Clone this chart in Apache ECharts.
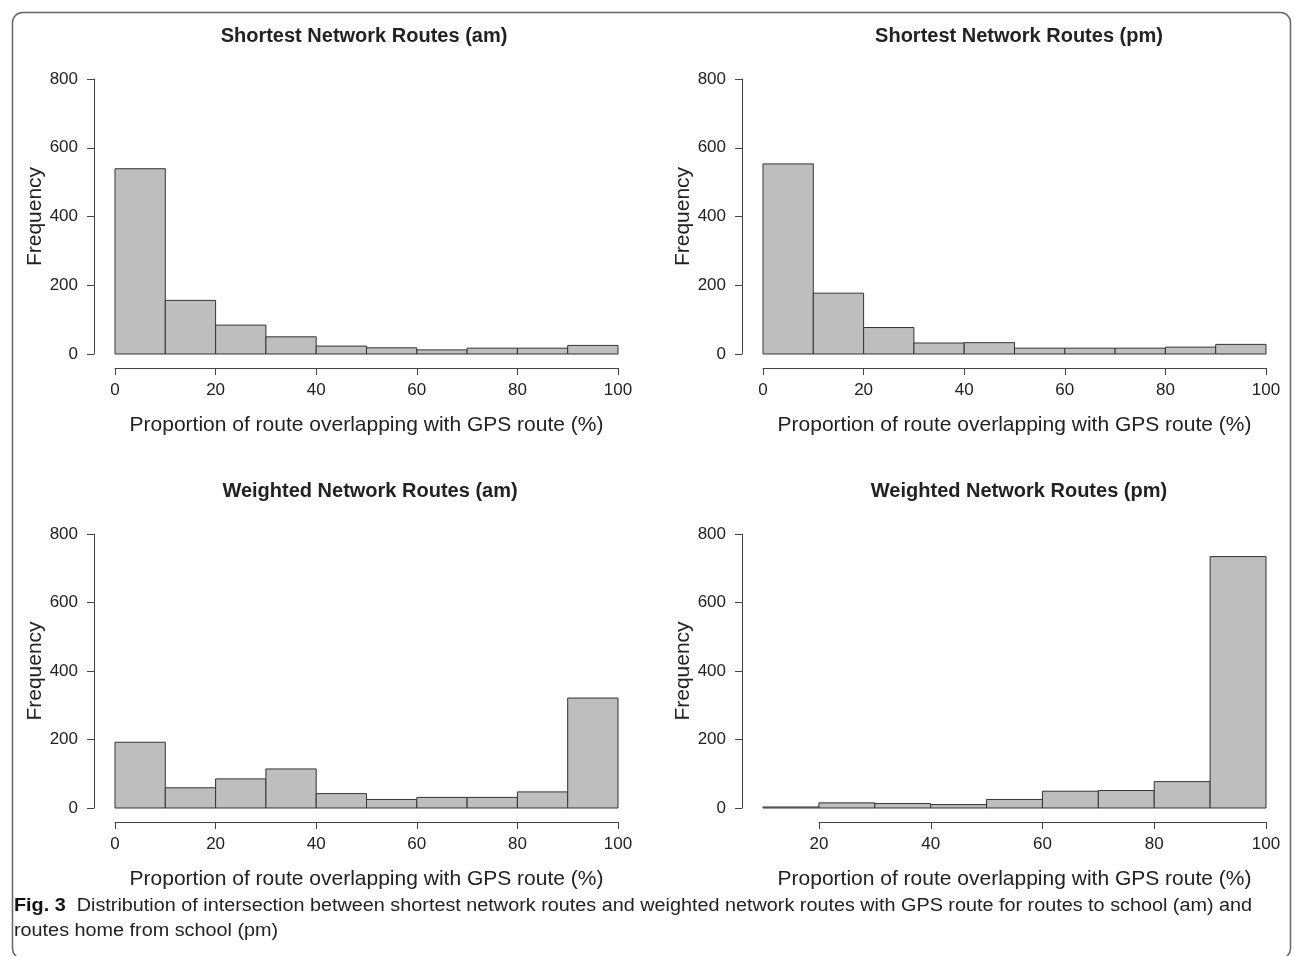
<!DOCTYPE html>
<html>
<head>
<meta charset="utf-8">
<script src="https://cdn.jsdelivr.net/npm/echarts@6/dist/echarts.min.js"></script>
<style>
  html, body { margin: 0; padding: 0; background: #fff; }
  #chart { width: 1295px; height: 956px; }
</style>
</head>
<body>
<div id="chart"></div>
<script>
// bin edges (percent overlap) and frequency counts
const binStartsFull = [0, 10, 20, 30, 40, 50, 60, 70, 80, 90];
const binEndsFull = [10, 20, 30, 40, 50, 60, 70, 80, 90, 100];
const binStartsWpm = [10, 20, 30, 40, 50, 60, 70, 80, 90];
const binEndsWpm = [20, 30, 40, 50, 60, 70, 80, 90, 100];

const shortestAm = [539, 156, 84, 50, 23, 18, 12, 17, 17, 25];
const shortestPm = [553, 177, 77, 32, 33, 17, 17, 17, 20, 28];
const weightedAm = [192, 59, 85, 114, 42, 25, 31, 31, 47, 321];
const weightedPm = [3, 15, 13, 10, 25, 49, 51, 77, 734];

const panelTitles = [
  'Shortest Network Routes (am)',
  'Shortest Network Routes (pm)',
  'Weighted Network Routes (am)',
  'Weighted Network Routes (pm)'
];
const xTitle = 'Proportion of route overlapping with GPS route (%)';
const yTitle = 'Frequency';

const FONT = '"Liberation Sans", Arial, sans-serif';
const TEXT = '#222';
const LINE = '#444';

function toRows(starts, ends, counts) {
  return counts.map(function (c, i) { return [starts[i], ends[i], c]; });
}

function renderHist(params, api) {
  const tl = api.coord([api.value(0), api.value(2)]);
  const br = api.coord([api.value(1), 0]);
  return {
    type: 'rect',
    shape: { x: tl[0], y: tl[1], width: br[0] - tl[0], height: br[1] - tl[1] },
    style: { fill: '#bebebe', stroke: '#333', lineWidth: 1 }
  };
}

const chart = echarts.init(document.getElementById('chart'), null, { renderer: 'canvas' });

const grids = [
  { left: 115, top: 79, width: 503, height: 275 },
  { left: 763, top: 79, width: 503, height: 275 },
  { left: 115, top: 534, width: 503, height: 274 },
  { left: 763, top: 534, width: 503, height: 274 },
  // axis-only grid for the last panel (R draws its x axis from 20 to 100)
  { left: 819, top: 534, width: 447, height: 274 }
];

// mode: 'full' = line, ticks, labels and title; 'title' = title only; 'axis' = no title
function xAxisCfg(i, min, mode) {
  return {
    type: 'value', gridIndex: i, min: min, max: 100, interval: 20,
    offset: 14,
    name: mode === 'axis' ? '' : xTitle, nameLocation: 'middle', nameGap: 47,
    nameTextStyle: { fontFamily: FONT, fontSize: 21, color: TEXT },
    axisLine: { show: mode !== 'title', onZero: false, lineStyle: { color: LINE, width: 1 } },
    axisTick: { show: mode !== 'title', length: 7, lineStyle: { color: LINE } },
    axisLabel: { show: mode !== 'title', fontFamily: FONT, fontSize: 17, color: TEXT, margin: 14, showMinLabel: true, showMaxLabel: true },
    splitLine: { show: false }
  };
}

function yAxisCfg(i, show) {
  return {
    type: 'value', gridIndex: i, min: 0, max: 800, interval: 200,
    show: show, offset: 21,
    name: yTitle, nameLocation: 'middle', nameGap: 46, nameRotate: 90,
    nameTextStyle: { fontFamily: FONT, fontSize: 21, color: TEXT },
    axisLine: { show: true, onZero: false, lineStyle: { color: LINE, width: 1 } },
    axisTick: { show: true, length: 7, lineStyle: { color: LINE } },
    axisLabel: { fontFamily: FONT, fontSize: 17, color: TEXT, margin: 16 },
    splitLine: { show: false }
  };
}

const titleCenters = [[359, 35], [1014, 35], [365, 490], [1014, 490]];

const option = {
  backgroundColor: '#fff',
  animation: false,
  title: panelTitles.map(function (t, i) {
    return {
      text: t, left: titleCenters[i][0], top: titleCenters[i][1] - 14, textAlign: 'center',
      textStyle: { fontFamily: FONT, fontSize: 20, fontWeight: 'bold', color: TEXT }
    };
  }),
  grid: grids,
  xAxis: [
    xAxisCfg(0, 0, 'full'),
    xAxisCfg(1, 0, 'full'),
    xAxisCfg(2, 0, 'full'),
    xAxisCfg(3, 10, 'title'),
    xAxisCfg(4, 20, 'axis')
  ],
  yAxis: [
    yAxisCfg(0, true),
    yAxisCfg(1, true),
    yAxisCfg(2, true),
    yAxisCfg(3, true),
    yAxisCfg(4, false)
  ],
  series: [
    { type: 'custom', xAxisIndex: 0, yAxisIndex: 0, renderItem: renderHist, data: toRows(binStartsFull, binEndsFull, shortestAm) },
    { type: 'custom', xAxisIndex: 1, yAxisIndex: 1, renderItem: renderHist, data: toRows(binStartsFull, binEndsFull, shortestPm) },
    { type: 'custom', xAxisIndex: 2, yAxisIndex: 2, renderItem: renderHist, data: toRows(binStartsFull, binEndsFull, weightedAm) },
    { type: 'custom', xAxisIndex: 3, yAxisIndex: 3, renderItem: renderHist, data: toRows(binStartsWpm, binEndsWpm, weightedPm) }
  ],
  graphic: [
    {
      type: 'rect', left: 10, top: 10,
      shape: { width: 1278, height: 946, r: 10 },
      style: { fill: null, stroke: '#666', lineWidth: 1.5 },
      silent: true
    },
    {
      type: 'text', x: 14, y: 894, scaleX: 1.1,
      style: {
        text: '{b|Fig. 3}  Distribution of intersection between shortest network routes and weighted network routes with GPS route for routes to school (am) and\nroutes home from school (pm)',
        fontFamily: FONT,
        fontSize: 18, fill: '#222', lineHeight: 25,
        rich: {
          b: { fontFamily: FONT, fontWeight: 'bold', fontSize: 18, fill: '#111', lineHeight: 25 }
        }
      }
    }
  ]
};

chart.setOption(option);
</script>
</body>
</html>
